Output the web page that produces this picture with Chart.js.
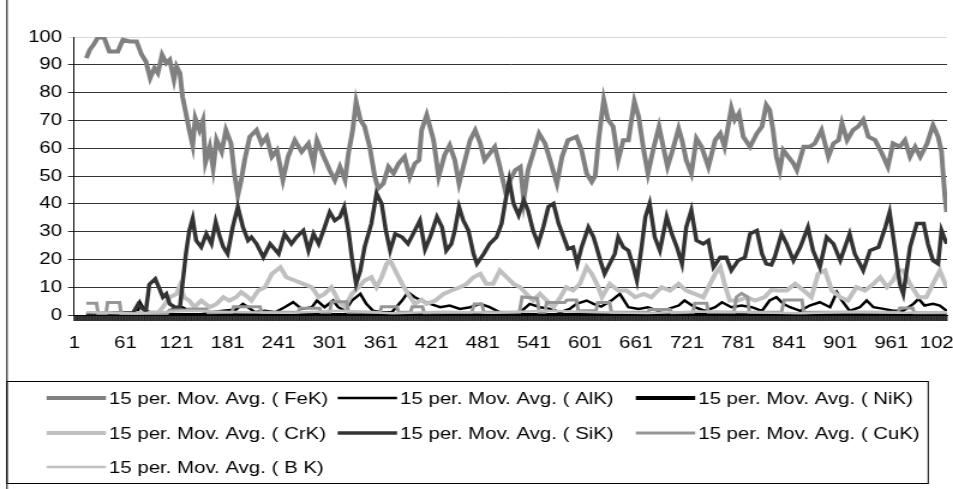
<!DOCTYPE html>
<html>
<head>
<meta charset="utf-8">
<script src="https://cdn.jsdelivr.net/npm/chart.js@4.4.1/dist/chart.umd.min.js"></script>
<style>
  html, body { margin: 0; padding: 0; background: #fff; overflow: hidden; }
  /* the original picture is an Excel chart stretched sideways, so the canvas is too */
  #wrap { width: 794px; height: 489px; transform: scaleX(1.2003); transform-origin: 0 0; }
</style>
</head>
<body>
<div id="wrap"><canvas id="chart" width="794" height="489"></canvas></div>
<script>
// number of samples on the category axis and the labelled ones
const pointCount = 1026
const xTicks = [1, 61, 121, 181, 241, 301, 361, 421, 481, 541, 601, 661, 721, 781, 841, 901, 961, 1021]
const yTicks = [0, 10, 20, 30, 40, 50, 60, 70, 80, 90, 100]

// [sample number, value]
const feK = [[15,92.4],[19,95.4],[23,97],[29,100],[36,99.6],[42,94.8],[52,94.8],[58,99],[66,98.4],[74,98.4],[80,93.6],[85,91.2],[90,85.2],[95,88.8],[99,87],[104,93.6],[109,90.6],[113,91.8],[118,84.6],[121,89.4],[125,87],[128,78.6],[132,72.6],[136,66.5],[140,61],[143,70.8],[148,66.5],[152,70],[155,55],[160,60.5],[164,52.7],[168,63],[174,58.7],[179,66.5],[185,61.7],[189,50.9],[193,43],[197,48.5],[201,55.7],[207,64.1],[215,66.5],[221,61.7],[227,64.1],[233,56.9],[239,59.3],[246,48.5],[252,56.9],[260,62.9],[268,58.7],[276,61.7],[282,54.5],[286,62.9],[294,56.9],[301,52.1],[307,48.5],[313,53.3],[319,48.5],[323,58.1],[328,66.5],[332,76.8],[337,70.2],[342,67.8],[348,60.5],[354,49.7],[358,45.5],[364,47.3],[370,53.3],[376,50.9],[382,54.5],[389,56.9],[395,49.7],[401,54.5],[406,55.7],[409,66.5],[415,72],[423,62.9],[429,49.7],[436,57.5],[442,61.1],[448,55.7],[453,47.3],[460,55.7],[466,62.9],[472,66.5],[478,61.7],[483,55.7],[489,58.1],[495,60.5],[501,53.3],[508,43.7],[513,48.5],[519,52.1],[525,53.3],[529,41.3],[534,52.1],[540,58.1],[547,65.3],[554,61.7],[560,55.7],[568,47.3],[574,56.9],[581,62.9],[591,64.1],[597,59.3],[603,50.9],[609,47.9],[613,50],[617,62.9],[623,77.4],[628,70.2],[634,67.8],[640,55.7],[646,62.9],[652,62.9],[659,76.8],[664,71.4],[670,59.3],[675,50.9],[681,59.3],[688,67.8],[693,60.5],[698,53.3],[704,59.3],[711,67.1],[715,62.9],[720,55.7],[726,50.9],[732,63.5],[738,60.5],[746,53.3],[754,62.9],[760,65.3],[765,60.5],[773,74.4],[777,70.2],[782,72.6],[787,64.1],[795,60.5],[803,65.3],[809,67.8],[814,75.6],[818,73.8],[822,66.5],[826,56.9],[830,52.1],[834,59.3],[840,56.9],[846,54.5],[850,52.1],[858,60.5],[865,60.5],[871,61.7],[879,66.5],[887,56.9],[893,61.7],[899,62.9],[903,69],[909,62.9],[916,66.5],[922,67.8],[928,70.2],[934,64.1],[942,62.9],[950,58.1],[957,53.3],[963,61.7],[971,60.5],[977,62.9],[983,56.9],[989,60.5],[995,56.9],[1003,61.7],[1010,68.3],[1016,64.1],[1020,58.7],[1024,42.5],[1026,37]]

const alK = [[15,0.5],[75,0.5],[78,4.6],[83,2],[90,1],[110,1],[120,2.8],[128,2.8],[136,1.5],[150,1.5],[160,1],[176,1.5],[191,2],[199,4],[205,2.8],[213,1],[225,1.5],[237,1],[248,2.8],[258,4.6],[268,2.2],[280,2.8],[286,5.2],[295,2.8],[305,5.2],[311,2.8],[319,1.5],[327,5.2],[337,7.6],[344,4],[352,1.5],[362,1],[374,1],[386,5.2],[393,8.2],[401,6.4],[409,5.2],[419,4],[431,2.8],[442,3.4],[454,2.2],[466,2.8],[478,4],[489,2.8],[501,1],[513,1],[525,1],[536,4],[548,2.8],[560,2.2],[572,1],[583,2.2],[591,4],[603,5.2],[611,4],[620,3],[632,5.2],[642,7.6],[652,2.8],[664,2.2],[675,2.8],[687,1.5],[699,2.2],[711,3.4],[718,5.2],[730,2.8],[742,1.5],[754,2.8],[762,4.6],[773,2.8],[785,3.4],[797,2.8],[809,1.5],[818,5.2],[826,6.4],[834,4],[842,2.8],[854,1.5],[865,3.4],[877,4.6],[889,2.8],[897,8.2],[903,5.2],[912,1.5],[924,2.8],[932,5.2],[940,2.8],[952,2.2],[963,1.5],[975,1.5],[987,4],[993,5.8],[1000,3.4],[1010,4],[1018,3.4],[1026,1.5]]

const niK = [[15,0],[200,0],[400,0],[600,0],[800,0],[1026,0]]

const crK = [[15,0.5],[60,0.5],[100,1],[105,2.8],[113,6.4],[121,7.6],[125,10.6],[130,6.4],[136,5.2],[142,2.8],[150,5.2],[160,2.8],[168,4],[176,6.4],[183,5.2],[191,6.4],[197,8.2],[205,6.4],[209,5.2],[217,8.8],[225,10],[233,14.8],[243,17.2],[250,13.6],[260,12.4],[270,11.2],[280,10],[288,6.4],[295,7.6],[303,10],[311,5.2],[319,2.8],[327,7.6],[335,10],[342,12.4],[350,13.6],[356,10],[362,13.6],[368,18.4],[372,19.6],[378,16],[386,11.2],[393,7.6],[401,4],[409,5.5],[415,4],[425,5.2],[435,7.6],[444,8.8],[454,10],[462,11.2],[470,13.6],[478,14.8],[485,11.2],[493,11.2],[501,16],[509,13.6],[517,11.2],[525,10],[532,7.6],[540,5.2],[548,7.6],[556,5.2],[564,2.8],[572,6.4],[579,10],[587,8.8],[595,11.2],[603,17.2],[609,14.8],[615,11.2],[621,6.4],[630,11.2],[640,8.8],[650,8.8],[660,6.4],[670,7.6],[679,6.4],[691,10],[701,8.8],[711,11.2],[720,8.8],[730,7.6],[740,6.4],[748,11.2],[754,14.8],[760,17.2],[765,11.2],[771,5.2],[781,5.2],[791,6.4],[801,5.2],[812,6.4],[820,9],[828,8.8],[838,8.8],[848,11.2],[858,8.8],[867,6.4],[875,14.8],[883,16],[891,8.8],[901,6.4],[910,5.2],[920,10],[930,8.8],[940,11.2],[948,13.6],[956,10],[963,12.4],[969,16],[975,16],[983,11.2],[993,6.4],[1002,6.4],[1010,11.2],[1018,16],[1026,10]]

const siK = [[15,0.5],[40,0.5],[70,0.8],[76,4],[80,2.5],[85,1.5],[89,11],[96,13],[101,9.4],[105,6.4],[109,7.6],[113,4],[119,2.8],[125,2.8],[128,11.2],[132,22],[136,30.4],[140,34.7],[144,26.8],[150,24.4],[156,29.2],[162,25.6],[167,33.5],[172,28],[176,24.4],[181,22],[187,31.6],[193,38.9],[199,31.6],[205,26.8],[209,28],[215,25.6],[223,20.8],[231,25.6],[241,22],[248,29.2],[256,25.6],[262,28],[270,30.4],[276,23.2],[282,29.2],[288,25.6],[295,31.6],[301,37],[307,34],[313,35.3],[318,38.9],[323,30.4],[327,20.8],[332,11.2],[337,16],[342,24.4],[350,32.9],[356,43.7],[362,40.1],[367,30.4],[372,23.2],[378,29.2],[386,28],[393,25.6],[399,29.2],[407,34],[413,23.6],[419,28],[427,35.3],[433,31.6],[438,23.2],[444,25.6],[448,30.4],[453,38.9],[458,34],[464,30.4],[470,22],[474,18.4],[482,22],[489,25.6],[497,28],[503,32.9],[507,40.1],[512,48.5],[517,40.1],[523,35.9],[529,41.3],[534,37.7],[540,30.4],[546,25.6],[552,31.6],[558,38.9],[564,40.1],[570,32.9],[576,28],[581,23.8],[587,24.4],[592,18.4],[597,24.4],[605,31.6],[611,28],[615,24],[619,19.6],[624,14.8],[630,18.4],[636,22],[640,28],[646,24.4],[652,23.2],[658,17.2],[662,12.4],[668,25.6],[672,35.3],[677,40.1],[683,28],[689,23.2],[697,35.3],[703,29.2],[709,24.4],[715,18.4],[720,31.6],[726,37.7],[732,26.8],[740,25.6],[746,26.8],[752,17.2],[760,20.8],[767,20.8],[773,16],[781,19.6],[789,20.8],[795,29.2],[803,30.4],[809,22],[814,18.4],[820,18],[824,20.8],[832,29.2],[838,25.6],[846,19.6],[854,24.4],[863,31.6],[869,23.2],[877,17.2],[885,28],[893,25.6],[901,19.6],[912,29.2],[918,22],[928,16],[936,23.2],[946,24.4],[954,31.6],[959,37],[965,24.4],[971,11.2],[975,7.6],[983,24.4],[991,32.9],[999,32.9],[1004,25.6],[1010,19.6],[1016,18.4],[1020,30.4],[1026,25.6]]

const cuK = [[15,4.2],[27,4.2],[29,0.3],[38,0.3],[40,4.5],[54,4.5],[56,0.3],[110,0.5],[113,1.8],[133,1.8],[135,2.2],[156,2.2],[158,0.8],[186,1],[188,3],[219,3],[221,1],[264,1],[266,2.4],[289,2.4],[291,1],[301,1],[303,4.8],[321,4.8],[323,1],[360,1],[362,3],[380,3],[382,1],[396,1],[398,3],[410,3],[412,0.8],[468,1],[471,4],[480,4],[482,1],[524,1],[527,6.5],[545,6],[547,1],[554,1],[556,4.5],[577,4.5],[580,5.4],[591,5.4],[593,1.5],[614,1.5],[616,4.5],[630,4.5],[632,1],[675,1],[677,2],[701,2],[703,0.8],[728,1],[730,4.2],[744,4.2],[746,1],[776,1],[779,6.5],[785,7.8],[792,6.5],[794,1],[832,1],[835,5.4],[856,5.4],[858,1],[969,1],[971,2.5],[986,2.5],[988,0.8],[1026,0.8]]

const bK = [[15,1],[75,0.5],[135,1.5],[195,1],[255,0.8],[315,1.5],[375,0.6],[435,1.2],[495,0.8],[555,1.5],[615,1],[675,0.7],[735,1.3],[795,1],[855,0.6],[915,1.2],[975,0.8],[1026,1]]

const font = { family: "'Liberation Sans', Arial, sans-serif", size: 17 }

function toPoints(arr) {
    return arr.map(p => ({ x: p[0], y: p[1] }))
}

function makeSet(label, arr, color, width, order) {
    return {
        label: label,
        data: toPoints(arr),
        borderColor: color,
        backgroundColor: color,
        borderWidth: width,
        pointRadius: 0,
        tension: 0,
        order: order
    }
}

// dense category tick marks under the x axis, one per sample
const categoryTicks = {
    id: 'categoryTicks',
    afterDraw(chart) {
        const ctx = chart.ctx
        const xs = chart.scales.x
        const y0 = chart.chartArea.bottom
        ctx.save()
        ctx.strokeStyle = '#000'
        ctx.lineWidth = 0.8
        ctx.beginPath()
        for (let k = 0; k <= pointCount; k++) {
            const px = xs.getPixelForValue(k + 0.5)
            ctx.moveTo(px, y0)
            ctx.lineTo(px, y0 + 6)
        }
        ctx.stroke()
        ctx.restore()
    }
}

// outer frame + the boxed legend at the bottom (3 columns like Excel)
const boxLegend = {
    id: 'boxLegend',
    afterDraw(chart) {
        const ctx = chart.ctx
        const colX = [90.8, 333.3, 581.7]
        const rowY = [398, 433, 467]
        ctx.save()
        ctx.strokeStyle = '#000'
        ctx.lineWidth = 1
        ctx.beginPath()
        ctx.moveTo(5.8, 0)
        ctx.lineTo(5.8, 489)
        ctx.stroke()
        ctx.strokeRect(5.8, 381.5, 767.5, 102)

        ctx.font = `${font.size}px ${font.family}`
        ctx.textBaseline = 'middle'
        ctx.textAlign = 'left'
        chart.data.datasets.forEach((ds, i) => {
            const tx = colX[i % 3]
            const ty = rowY[Math.floor(i / 3)]
            ctx.strokeStyle = ds.borderColor
            ctx.lineWidth = ds.borderWidth
            ctx.beginPath()
            ctx.moveTo(tx - 52, ty)
            ctx.lineTo(tx - 2.5, ty)
            ctx.stroke()
            ctx.fillStyle = '#000'
            ctx.fillText(ds.label, tx, ty + 1)
        })
        ctx.restore()
    }
}

const ctx = document.getElementById('chart')

new Chart(ctx, {
    type: 'line',
    data: {
        datasets: [
            makeSet('15 per. Mov. Avg. ( FeK)', feK, '#808080', 4, 7),
            makeSet('15 per. Mov. Avg. ( AlK)', alK, '#000000', 2.5, 6),
            makeSet('15 per. Mov. Avg. ( NiK)', niK, '#000000', 4, 5),
            makeSet('15 per. Mov. Avg. ( CrK)', crK, '#c0c0c0', 4, 4),
            makeSet('15 per. Mov. Avg. ( SiK)', siK, '#333333', 3.5, 3),
            makeSet('15 per. Mov. Avg. ( CuK)', cuK, '#969696', 3, 2),
            makeSet('15 per. Mov. Avg. ( B K)', bK, '#c0c0c0', 2.5, 1)
        ]
    },
    options: {
        responsive: false,
        devicePixelRatio: 1,
        animation: false,
        layout: { padding: { left: 20, right: 5, top: 37, bottom: 116 } },
        plugins: {
            legend: { display: false },
            tooltip: { enabled: false }
        },
        scales: {
            x: {
                type: 'linear',
                min: 0.5,
                max: pointCount + 0.5,
                afterBuildTicks: axis => { axis.ticks = xTicks.map(v => ({ value: v })) },
                afterFit: axis => { axis.height = 58; axis.paddingLeft = 0; axis.paddingRight = 0 },
                ticks: { autoSkip: false, maxRotation: 0, padding: 18, color: '#000', font: font, callback: v => String(v) },
                grid: { drawOnChartArea: false, drawTicks: false },
                border: { display: true, color: '#000', width: 1 }
            },
            y: {
                min: 0,
                max: 100,
                afterBuildTicks: axis => { axis.ticks = yTicks.map(v => ({ value: v })) },
                afterFit: axis => { axis.width = 41.65 },
                ticks: { padding: 4.9, color: '#000', font: font },
                grid: {
                    color: c => (c.tick && c.tick.value === 100) ? '#d9d9d9' : '#333333',
                    tickLength: 5,
                    lineWidth: 1
                },
                border: { color: '#000', width: 1 }
            }
        }
    },
    plugins: [categoryTicks, boxLegend]
})
</script>
</body>
</html>
